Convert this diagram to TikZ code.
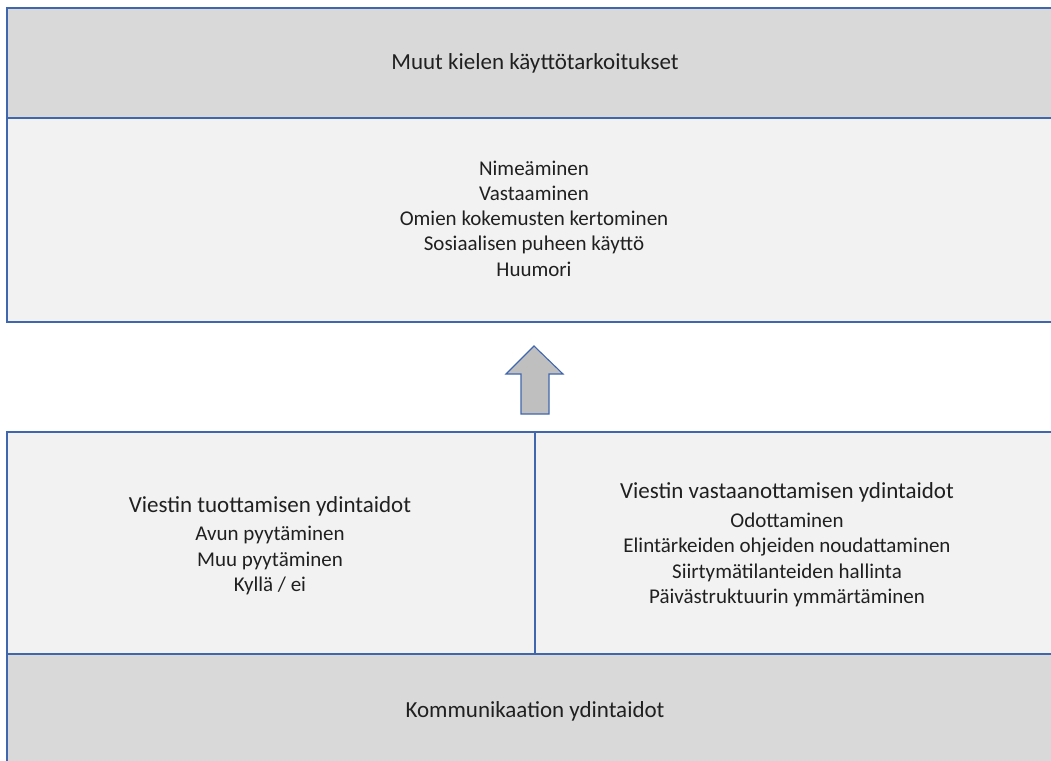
\documentclass[tikz,border=0pt]{standalone}
\usepackage{fontspec}
\setmainfont{Carlito}
\definecolor{hdr}{HTML}{D9D9D9}
\definecolor{bdy}{HTML}{F2F2F2}
\definecolor{edgeblue}{HTML}{4066AD}
\definecolor{arrowgray}{HTML}{BFBFBF}
\definecolor{txt}{HTML}{202020}
\newcommand{\headf}{\fontsize{23}{28}\selectfont}
\newcommand{\itemf}{\fontsize{21}{25.3}\selectfont}
\begin{document}
\begin{tikzpicture}[x=1pt,y=-1pt,
  panel/.style={draw=edgeblue, anchor=north west, inner sep=0pt, outer sep=0pt},
  thickpanel/.style={panel, line width=1.6pt},
  thinpanel/.style={panel, line width=1.1pt},
  headtext/.style={text=txt, font=\headf, inner sep=0pt, align=center},
  itemtext/.style={text=txt, font=\itemf, inner sep=0pt, align=center},
  blockarrow/.style={draw=edgeblue, fill=arrowgray, line width=1.1pt, line join=miter}]
\useasboundingbox (0,0) rectangle (1051,760);
% upper part
\node[thickpanel, fill=hdr, minimum width=1056pt, minimum height=110pt] (tophead) at (7,8) {};
\node[thickpanel, fill=bdy, minimum width=1056pt, minimum height=204pt] (topbody) at (7,118) {};
\node[headtext] (toptitle) at (535,63) {Muut kielen käyttötarkoitukset};
\node[itemtext] (toplist) at (534,218.5) {Nimeäminen\\Vastaaminen\\Omien kokemusten kertominen\\Sosiaalisen puheen käyttö\\Huumori};
% arrow
\draw[blockarrow] (534,346) -- (563,374) -- (549,374) -- (549,414) -- (521,414) -- (521,374) -- (506,374) -- cycle;
% lower part
\node[thinpanel, fill=bdy, minimum width=528pt, minimum height=222pt] (leftbox) at (7,432) {};
\node[thinpanel, fill=bdy, minimum width=528pt, minimum height=222pt] (rightbox) at (535,432) {};
\node[thinpanel, fill=hdr, minimum width=1056pt, minimum height=116pt] (bottomhead) at (7,654) {};
\node[itemtext] (leftlist) at (270,545.5) {{\headf Viestin tuottamisen ydintaidot}\\[3.5pt]Avun pyytäminen\\Muu pyytäminen\\Kyllä / ei};
\node[itemtext] (rightlist) at (787,544.5) {{\headf Viestin vastaanottamisen ydintaidot}\\[4pt]Odottaminen\\Elintärkeiden ohjeiden noudattaminen\\Siirtymätilanteiden hallinta\\Päivästruktuurin ymmärtäminen};
\node[headtext] (bottomtitle) at (535,711) {Kommunikaation ydintaidot};
\end{tikzpicture}
\end{document}
